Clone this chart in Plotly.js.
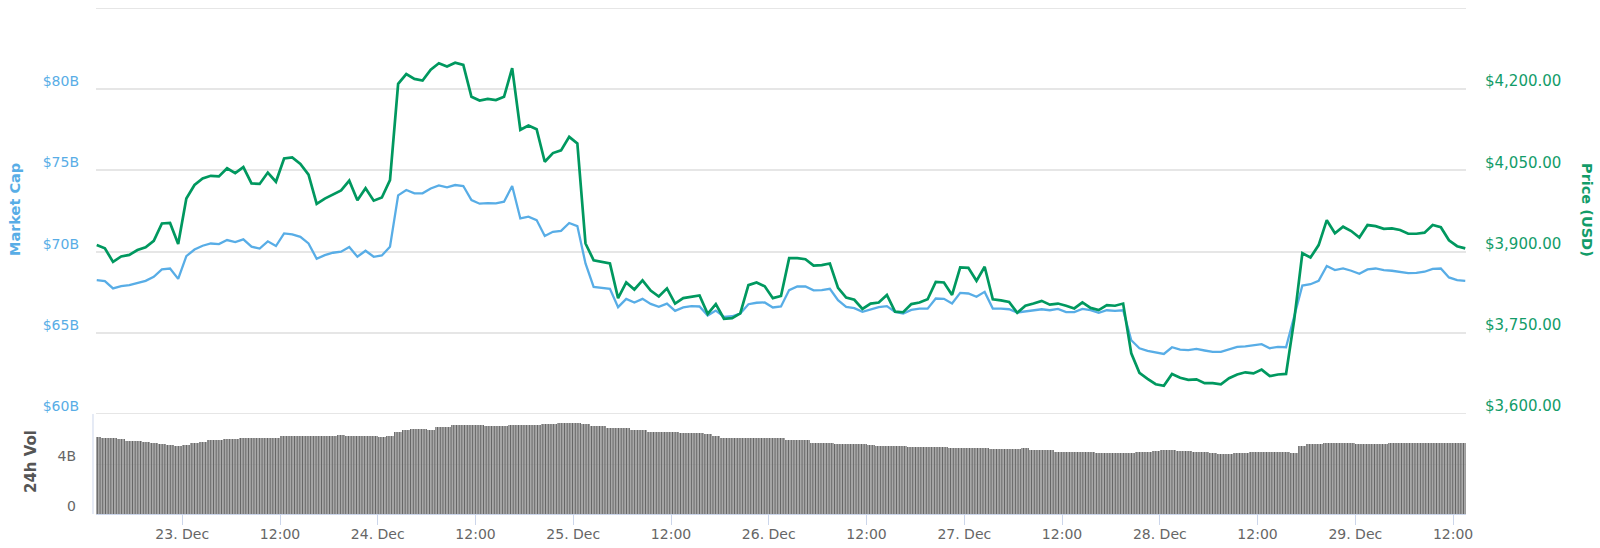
<!DOCTYPE html>
<html>
<head>
<meta charset="utf-8">
<script src="https://cdn.plot.ly/plotly-3.0.1.min.js"></script>
<style>
html,body{margin:0;padding:0;background:#ffffff;}
#chart{width:1600px;height:548px;}
</style>
</head>
<body>
<div id="chart"></div>
<script>
// Hourly samples starting 22 Dec 13:30
const startUTC = Date.UTC(2018, 11, 22, 13, 30);

const priceUSD = [
  3912, 3906, 3881, 3891, 3894, 3903, 3908, 3920, 3952, 3953,
  3914, 3998, 4023, 4035, 4040, 4039, 4054, 4045, 4056, 4026,
  4025, 4046, 4029, 4072, 4074, 4062, 4042, 3988, 3998, 4006,
  4013, 4031, 3995, 4017, 3994, 4000, 4032, 4210, 4228, 4219,
  4216, 4236, 4248, 4242, 4249, 4245, 4186, 4179, 4182, 4180,
  4186, 4239, 4125, 4133, 4126, 4066, 4082, 4087, 4112, 4100,
  3915, 3884, 3881, 3878, 3814, 3843, 3830, 3847, 3828, 3817,
  3832, 3804, 3814, 3817, 3819, 3785, 3803, 3776, 3777, 3786,
  3838, 3843, 3836, 3814, 3818, 3888, 3888, 3886, 3874, 3875,
  3878, 3833, 3815, 3811, 3794, 3804, 3806, 3820, 3789, 3788,
  3803, 3806, 3812, 3844, 3843, 3820, 3871, 3870, 3846, 3872,
  3812, 3810, 3807, 3787, 3800, 3804, 3809, 3802, 3804, 3800,
  3795, 3806, 3796, 3792, 3801, 3800, 3804, 3712, 3676, 3665,
  3655, 3652, 3674, 3667, 3663, 3664, 3657, 3657, 3655, 3666,
  3673, 3677, 3675, 3682, 3670, 3673, 3674, 3774, 3897, 3889,
  3912, 3958, 3934, 3946, 3938, 3926, 3949, 3947, 3942, 3943,
  3940, 3933, 3933, 3935, 3949, 3945, 3921, 3910, 3906
];

const marketCapB = [
  68.24, 68.18, 67.73, 67.87, 67.93, 68.08, 68.20, 68.45, 68.90, 68.96,
  68.32, 69.72, 70.13, 70.36, 70.50, 70.46, 70.71, 70.59, 70.75, 70.30,
  70.19, 70.63, 70.34, 71.12, 71.06, 70.91, 70.50, 69.56, 69.78, 69.93,
  69.99, 70.28, 69.68, 70.05, 69.68, 69.76, 70.30, 73.46, 73.79, 73.59,
  73.59, 73.89, 74.08, 73.96, 74.10, 74.04, 73.17, 72.95, 72.99, 72.97,
  73.07, 74.04, 72.04, 72.15, 71.94, 70.96, 71.22, 71.28, 71.76, 71.57,
  69.27, 67.83, 67.79, 67.71, 66.58, 67.09, 66.87, 67.09, 66.78, 66.60,
  66.80, 66.35, 66.56, 66.64, 66.62, 66.06, 66.37, 65.98, 66.02, 66.19,
  66.76, 66.85, 66.87, 66.56, 66.62, 67.63, 67.85, 67.85, 67.61, 67.63,
  67.71, 67.01, 66.60, 66.52, 66.29, 66.43, 66.58, 66.64, 66.29, 66.19,
  66.41, 66.49, 66.49, 67.11, 67.09, 66.80, 67.46, 67.42, 67.22, 67.52,
  66.49, 66.49, 66.45, 66.25, 66.31, 66.39, 66.45, 66.39, 66.47, 66.27,
  66.27, 66.47, 66.39, 66.23, 66.39, 66.35, 66.39, 64.54, 64.05, 63.89,
  63.80, 63.70, 64.11, 63.97, 63.93, 64.01, 63.91, 63.82, 63.82, 63.99,
  64.13, 64.17, 64.22, 64.30, 64.05, 64.13, 64.11, 65.98, 67.91, 67.99,
  68.20, 69.11, 68.86, 68.96, 68.82, 68.63, 68.90, 68.96, 68.86, 68.82,
  68.76, 68.67, 68.69, 68.76, 68.94, 68.96, 68.41, 68.24, 68.20
];

const volume24hB = [
  6.13, 6.11, 6.05, 6.00, 5.87, 5.81, 5.73, 5.71, 5.60, 5.49,
  5.44, 5.49, 5.65, 5.79, 5.89, 5.95, 6.00, 6.03, 6.08, 6.11,
  6.11, 6.11, 6.08, 6.21, 6.24, 6.24, 6.24, 6.24, 6.24, 6.27,
  6.29, 6.24, 6.24, 6.24, 6.24, 6.16, 6.24, 6.59, 6.75, 6.77,
  6.77, 6.72, 6.99, 6.99, 7.09, 7.09, 7.09, 7.09, 7.04, 7.04,
  7.04, 7.09, 7.12, 7.12, 7.12, 7.17, 7.20, 7.25, 7.31, 7.31,
  7.23, 7.01, 7.01, 6.91, 6.91, 6.91, 6.69, 6.69, 6.59, 6.59,
  6.56, 6.53, 6.48, 6.51, 6.48, 6.37, 6.27, 6.11, 6.11, 6.05,
  6.11, 6.11, 6.11, 6.11, 6.05, 5.89, 5.89, 5.89, 5.71, 5.65,
  5.65, 5.63, 5.57, 5.57, 5.57, 5.52, 5.44, 5.44, 5.44, 5.41,
  5.36, 5.33, 5.33, 5.36, 5.33, 5.31, 5.31, 5.31, 5.31, 5.25,
  5.23, 5.23, 5.23, 5.20, 5.25, 5.12, 5.12, 5.09, 4.99, 4.99,
  4.99, 4.99, 4.99, 4.85, 4.85, 4.85, 4.85, 4.91, 4.99, 4.99,
  5.01, 5.09, 5.09, 5.07, 5.04, 4.99, 4.99, 4.91, 4.77, 4.83,
  4.85, 4.88, 4.99, 4.99, 4.99, 4.99, 4.93, 4.91, 5.47, 5.57,
  5.63, 5.71, 5.65, 5.65, 5.65, 5.60, 5.57, 5.57, 5.63, 5.65,
  5.65, 5.65, 5.65, 5.65, 5.65, 5.65, 5.65, 5.65, 5.65
];

const xTickDates = [
  '2018-12-23 00:00', '2018-12-23 12:00', '2018-12-24 00:00', '2018-12-24 12:00',
  '2018-12-25 00:00', '2018-12-25 12:00', '2018-12-26 00:00', '2018-12-26 12:00',
  '2018-12-27 00:00', '2018-12-27 12:00', '2018-12-28 00:00', '2018-12-28 12:00',
  '2018-12-29 00:00', '2018-12-29 12:00'
];
const xTickLabels = [
  '23. Dec', '12:00', '24. Dec', '12:00', '25. Dec', '12:00', '26. Dec', '12:00',
  '27. Dec', '12:00', '28. Dec', '12:00', '29. Dec', '12:00'
];

const capTickVals = [60, 65, 70, 75, 80];
const capTickText = ['$60B', '$65B', '$70B', '$75B', '$80B'];
const capTop = 85;
const priceTickVals = [3600, 3750, 3900, 4050, 4200];
const priceTickText = ['$3,600.00', '$3,750.00', '$3,900.00', '$4,050.00', '$4,200.00'];
const volTickVals = [0, 4];
const volTickText = ['0', '4B'];

const times = priceUSD.map((_, i) => {
  const d = new Date(startUTC + i * 3600000);
  return d.toISOString().slice(0, 16).replace('T', ' ');
});

const BLUE = '#58ade6';
const GREEN = '#00985f';
const GREEN_TXT = '#129c69';
const GRID = '#e6e6e6';
const AXIS = '#ccd6eb';
const FONT = 'DejaVu Sans, Verdana, sans-serif';

const volDomainTop = 100 / 506;

const traces = [
  {
    type: 'bar', x: times, y: volume24hB, xaxis: 'x', yaxis: 'y3',
    width: 3600000,
    marker: {
      color: '#6c6c6c',
      line: {width: 0},
      pattern: {shape: '|', size: 2.7, solidity: 0.62, fgcolor: '#626262',
                bgcolor: 'rgba(195,195,195,0.6)', fillmode: 'replace'}
    },
    hoverinfo: 'skip'
  },
  {
    type: 'scatter', mode: 'lines', x: times, y: marketCapB, xaxis: 'x', yaxis: 'y',
    line: {color: BLUE, width: 2.3}, hoverinfo: 'skip'
  },
  {
    type: 'scatter', mode: 'lines', x: times, y: priceUSD, xaxis: 'x', yaxis: 'y2',
    line: {color: GREEN, width: 2.7}, hoverinfo: 'skip'
  }
];

const layout = {
  width: 1600, height: 548,
  margin: {l: 96, r: 134, t: 8, b: 34, pad: 0},
  paper_bgcolor: '#ffffff', plot_bgcolor: '#ffffff',
  showlegend: false,
  font: {family: FONT, size: 14, color: '#666666'},
  bargap: 0,
  xaxis: {
    type: 'date', anchor: 'y3',
    range: ['2018-12-22 13:24:36', '2018-12-29 13:35:24'],
    tickmode: 'array', tickvals: xTickDates, ticktext: xTickLabels,
    ticks: 'outside', ticklen: 10, tickwidth: 1, tickcolor: AXIS,
    showline: true, linecolor: AXIS, linewidth: 1,
    showgrid: false, zeroline: false,
    ticklabelstandoff: -3,
    tickfont: {family: FONT, size: 14, color: '#666666'}
  },
  yaxis: {
    domain: [volDomainTop, 1], range: [60, capTop],
    tickmode: 'array', tickvals: capTickVals, ticktext: capTickText,
    ticks: '', showline: false, zeroline: false,
    showgrid: true, gridcolor: GRID, gridwidth: 2,
    ticklabelstandoff: 16, ticklabelshift: -8,
    tickfont: {family: FONT, size: 14, color: BLUE}
  },
  yaxis2: {
    overlaying: 'y', side: 'right', anchor: 'x', range: [3600, 4350],
    tickmode: 'array', tickvals: priceTickVals, ticktext: priceTickText,
    ticks: '', showline: false, zeroline: false, showgrid: false,
    ticklabelstandoff: 18, ticklabelshift: -8,
    tickfont: {family: FONT, size: 15, color: GREEN_TXT}
  },
  yaxis3: {
    domain: [0, volDomainTop], range: [0, 8], anchor: 'x',
    tickmode: 'array', tickvals: volTickVals, ticktext: volTickText,
    ticks: '', showline: false, zeroline: false,
    showgrid: true, gridcolor: GRID, gridwidth: 1,
    ticklabelstandoff: 19, ticklabelshift: -8,
    tickfont: {family: FONT, size: 14, color: '#666666'}
  },
  shapes: [
    {type: 'line', xref: 'paper', yref: 'y', x0: 0, x1: 1, y0: capTop, y1: capTop,
     line: {color: GRID, width: 2}, layer: 'below'},
    {type: 'line', xref: 'paper', yref: 'y', x0: 0, x1: 1, y0: 60, y1: 60,
     line: {color: GRID, width: 2}, layer: 'below'},
    {type: 'line', xref: 'paper', yref: 'paper', x0: -0.0022, x1: -0.0022, y0: 0, y1: volDomainTop,
     line: {color: AXIS, width: 1}}
  ],
  annotations: [
    {text: 'Market Cap', xref: 'paper', yref: 'paper', x: -0.0591, y: 0.6008,
     xanchor: 'center', yanchor: 'middle', textangle: -90, showarrow: false,
     font: {family: FONT, size: 14.5, color: BLUE, weight: 'bold'}},
    {text: '24h Vol', xref: 'paper', yref: 'paper', x: -0.0474, y: 0.1028,
     xanchor: 'center', yanchor: 'middle', textangle: -90, showarrow: false,
     font: {family: FONT, size: 15, color: '#555555', weight: 'bold'}},
    {text: 'Price (USD)', xref: 'paper', yref: 'paper', x: 1.0883, y: 0.6008,
     xanchor: 'center', yanchor: 'middle', textangle: 90, showarrow: false,
     font: {family: FONT, size: 14.5, color: GREEN_TXT, weight: 'bold'}}
  ]
};

Plotly.newPlot('chart', traces, layout, {staticPlot: true, displayModeBar: false});
</script>
</body>
</html>
